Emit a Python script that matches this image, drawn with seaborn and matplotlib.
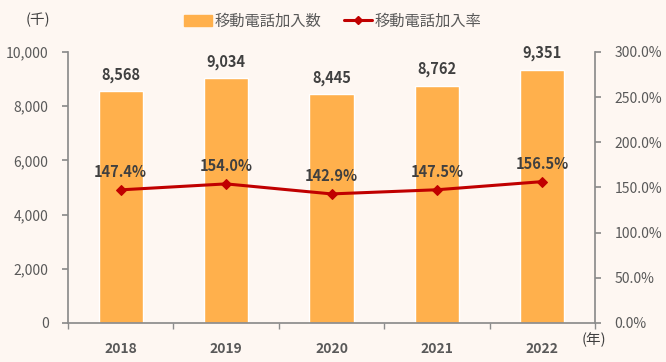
import seaborn as sns
import pandas as pd
import matplotlib.pyplot as plt
from matplotlib.lines import Line2D
from matplotlib.patches import Patch
from matplotlib.ticker import FuncFormatter

years = ["2018", "2019", "2020", "2021", "2022"]
subscribers = [8568, 9034, 8445, 8762, 9351]
rate = [147.4, 154.0, 142.9, 147.5, 156.5]

bar_col = "#FFB04C"
line_col = "#C00000"
bg = "#FEF7F2"
txt = "#595959"

sns.set_theme(style="white")
plt.rcParams["font.family"] = ["Noto Sans CJK JP", "DejaVu Sans"]

df = pd.DataFrame({"year": years, "subs": subscribers, "rate": rate})

fig = plt.figure(figsize=(6.66, 3.62), dpi=100, facecolor=bg)
ax = fig.add_axes([68 / 666, 1 - 323 / 362, 527 / 666, 271 / 362])
ax.set_facecolor(bg)

sns.barplot(data=df, x="year", y="subs", color=bar_col, width=0.42,
            saturation=1, ax=ax)
ax.set_ylim(0, 10000)
ax.set_xlim(-0.5, 4.5)
ax.set_yticks(range(0, 10001, 2000))
ax.yaxis.set_major_formatter(FuncFormatter(lambda v, p: f"{int(v):,}"))
ax.set_xlabel("")
ax.set_ylabel("")

for i, v in enumerate(subscribers):
    ax.text(i, v + 300, f"{v:,}", ha="center", va="bottom", fontsize=10.5,
            fontweight="bold", color="#404040")

ax2 = ax.twinx()
sns.lineplot(data=df, x="year", y="rate", color=line_col, marker="D",
             markersize=5, linewidth=2.2, markeredgecolor=line_col,
             sort=False, ax=ax2)
ax2.set_ylim(0, 300)
ax2.set_yticks(range(0, 301, 50))
ax2.yaxis.set_major_formatter(FuncFormatter(lambda v, p: f"{v:.1f}%"))
ax2.set_ylabel("")
ax2.set_xlabel("")

for i, v in enumerate(rate):
    ax2.text(i, v + 11, f"{v:.1f}%", ha="center", va="bottom", fontsize=10.5,
             fontweight="bold", color="#404040")

spine_col = "#8C8C8C"
for a in (ax, ax2):
    for s in a.spines.values():
        s.set_visible(False)
ax.spines["left"].set_visible(True)
ax.spines["left"].set_color(spine_col)
ax.spines["bottom"].set_visible(True)
ax.spines["bottom"].set_color(spine_col)
ax2.spines["right"].set_visible(True)
ax2.spines["right"].set_color(spine_col)

ax.tick_params(axis="y", left=True, length=4, color=spine_col, labelsize=10,
               labelcolor=txt, pad=10)
ax.tick_params(axis="x", bottom=False, labelsize=10, labelcolor=txt, pad=8)
for lab in ax.get_xticklabels():
    lab.set_fontweight("bold")
ax.set_xticks([-0.5, 0.5, 1.5, 2.5, 3.5, 4.5], minor=True)
ax.tick_params(axis="x", which="minor", bottom=True, length=4, color=spine_col)
ax2.tick_params(axis="y", right=True, length=4, color=spine_col, labelsize=10,
                labelcolor=txt, pad=10)

fig.text(38 / 666, 1 - 20 / 362, "(千)", ha="center", va="center",
         fontsize=10.5, color="#404040")
fig.text(594 / 666, 1 - 340 / 362, "(年)", ha="center", va="center",
         fontsize=10.5, color="#404040")

handles = [Patch(color=bar_col),
           Line2D([0], [0], color=line_col, marker="D", markersize=4,
                  linewidth=2.2)]
fig.legend(handles, ["移動電話加入数", "移動電話加入率"], loc="center",
           bbox_to_anchor=(0.5, 1 - 21 / 362), ncol=2, frameon=False,
           fontsize=11, labelcolor=txt, handlelength=1.8, handletextpad=0.2,
           columnspacing=1.5)

fig.savefig("out.png", dpi=100, facecolor=bg)
